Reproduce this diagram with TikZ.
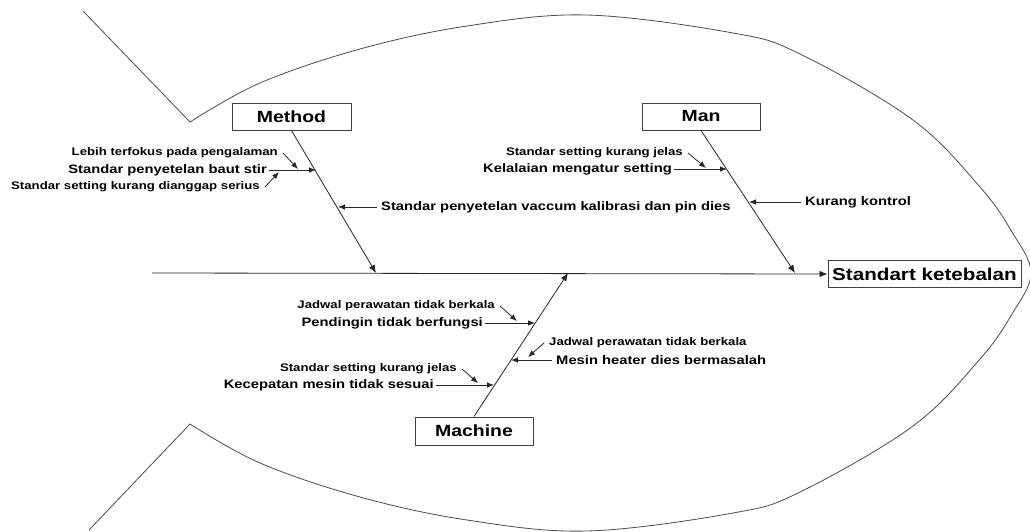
\documentclass[tikz,border=0pt]{standalone}
\usepackage{fontspec}
\setmainfont{Liberation Sans}[FakeStretch=1.2]
\usetikzlibrary{arrows.meta}

\begin{document}
\begin{tikzpicture}[x=1pt,y=-1pt,
  box/.style={draw=black!75, line width=1pt, minimum height=27pt, inner sep=2pt},
  big/.style={font=\bfseries\fontsize{12.3}{14}\selectfont, inner sep=2pt},
  tiny/.style={font=\bfseries\fontsize{11}{13}\selectfont, inner ysep=1pt, inner xsep=5pt},
  bone/.style={draw=black!85, line width=0.8pt, -{Latex[length=8pt,width=6.5pt]}},
  twig/.style={draw=black!85, line width=0.8pt, -{Latex[length=7pt,width=5.5pt]}}]

\useasboundingbox (0,0) rectangle (1030,531);

% fish outline
\draw[black!70, line width=0.8pt] (83,11) -- plot[smooth, tension=0.6] coordinates {
  (190,122) (260,83) (360,49) (467,26) (587,15) (733,33) (800,54) (913,120)
  (980,187) (1012,232) (1031,273) (1012,314) (980,359) (913,426) (800,492)
  (733,513) (587,531) (467,520) (360,497) (260,463) (190,424)} -- (89,530);

% head and category boxes
\node[box, minimum width=193pt, font=\bfseries\fontsize{17.2}{20}\selectfont] (effect) at (924.5,274) {Standart ketebalan};
\node[box, minimum width=119pt, font=\bfseries\fontsize{16.2}{19}\selectfont] (method) at (291.5,116.5) {Method};
\node[box, minimum width=118pt, font=\bfseries\fontsize{16.2}{19}\selectfont] (man) at (701,116.5) {Man};
\node[box, minimum width=118pt, minimum height=28pt, font=\bfseries\fontsize{16.2}{19}\selectfont] (machine) at (474,431) {Machine};

% spine
\coordinate (tail) at (152,273);
\draw[bone] (tail) -- (effect.west);

% bones
\coordinate (mtip) at (376,273);
\coordinate (ntip) at (795,273);
\coordinate (ctip) at (568,273);
\draw[bone] (method.south) -- (mtip);
\draw[bone] (man.south) -- (ntip);
\draw[bone] (machine.north) -- (ctip);

% points on the bones
\coordinate (m1) at (316,170);
\coordinate (m2) at (338,207);
\coordinate (m1a) at (298,169);
\coordinate (m1b) at (279,172);
\coordinate (n1) at (727,169);
\coordinate (n2) at (749,202);
\coordinate (n1a) at (706,168);
\coordinate (c1) at (535,323);
\coordinate (c2) at (511,360);
\coordinate (c3) at (494,385);
\coordinate (c1a) at (517,321);
\coordinate (c2a) at (528,357);
\coordinate (c3a) at (478,383);

% Method causes
\node[big, anchor=east] (mbaut) at (269,170) {Standar penyetelan baut stir};
\node[tiny, anchor=east] (mlebih) at (283,153) {Lebih terfokus pada pengalaman};
\node[tiny, anchor=east] (mserius) at (265,187) {Standar setting kurang dianggap serius};
\node[big, anchor=west, inner xsep=4pt] (mvac) at (377,207) {Standar penyetelan vaccum kalibrasi dan pin dies};
\draw[twig] (mbaut.east) -- (m1);
\draw[twig] (mlebih.east) -- (m1a);
\draw[twig] (mserius.east) -- (m1b);
\draw[twig] (mvac.west) -- (m2);

% Man causes
\node[big, anchor=east] (nlalai) at (674,169) {Kelalaian mengatur setting};
\node[tiny, anchor=east] (njelas) at (688,153) {Standar setting kurang jelas};
\node[big, anchor=west, inner xsep=4pt] (nkontrol) at (801,202) {Kurang kontrol};
\draw[twig] (nlalai.east) -- (n1);
\draw[twig] (njelas.east) -- (n1a);
\draw[twig] (nkontrol.west) -- (n2);

% Machine causes
\node[big, anchor=east] (cdingin) at (485,323) {Pendingin tidak berfungsi};
\node[tiny, anchor=east] (cjadwal) at (500,306) {Jadwal perawatan tidak berkala};
\node[big, anchor=west, inner xsep=4pt] (cheater) at (552,360) {Mesin heater dies bermasalah};
\node[tiny, anchor=west] (cjadwalb) at (544,343) {Jadwal perawatan tidak berkala};
\node[big, anchor=east] (ccepat) at (436,385) {Kecepatan mesin tidak sesuai};
\node[tiny, anchor=east] (cjelas) at (462,369) {Standar setting kurang jelas};
\draw[twig] (cdingin.east) -- (c1);
\draw[twig] (cjadwal.east) -- (c1a);
\draw[twig] (cheater.west) -- (c2);
\draw[twig] (cjadwalb.west) -- (c2a);
\draw[twig] (ccepat.east) -- (c3);
\draw[twig] (cjelas.east) -- (c3a);

\end{tikzpicture}
\end{document}
